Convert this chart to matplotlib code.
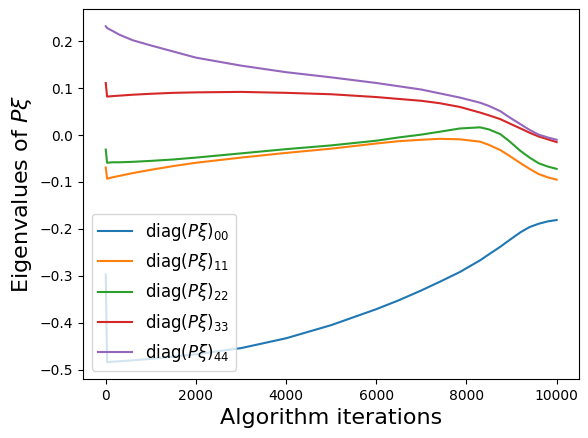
import matplotlib.pyplot as plt
import numpy as np

iters = [0, 30, 150, 300, 600, 1000, 1500, 2000, 3000, 4000, 5000, 6000, 6500,
         7000, 7400, 7850, 8300, 8500, 8750, 8950, 9200, 9400, 9600, 9800, 10000]

eig_00 = [-0.297, -0.484, -0.483, -0.482, -0.480, -0.477, -0.472, -0.467, -0.454,
          -0.433, -0.405, -0.371, -0.352, -0.331, -0.313, -0.292, -0.267, -0.254,
          -0.238, -0.224, -0.207, -0.196, -0.189, -0.184, -0.181]
eig_11 = [-0.069, -0.093, -0.090, -0.087, -0.081, -0.074, -0.066, -0.059, -0.048,
          -0.038, -0.029, -0.018, -0.013, -0.010, -0.008, -0.009, -0.014, -0.021,
          -0.032, -0.044, -0.060, -0.072, -0.083, -0.090, -0.095]
eig_22 = [-0.031, -0.059, -0.058, -0.058, -0.057, -0.055, -0.052, -0.048, -0.039,
          -0.030, -0.022, -0.012, -0.005, 0.001, 0.007, 0.014, 0.0165, 0.012,
          0.002, -0.013, -0.034, -0.048, -0.060, -0.067, -0.072]
eig_33 = [0.111, 0.082, 0.083, 0.084, 0.086, 0.088, 0.090, 0.091, 0.092, 0.090,
          0.087, 0.081, 0.077, 0.073, 0.068, 0.060, 0.048, 0.042, 0.034, 0.025,
          0.014, 0.005, -0.003, -0.009, -0.015]
eig_44 = [0.232, 0.228, 0.222, 0.214, 0.202, 0.191, 0.178, 0.165, 0.148, 0.134,
          0.123, 0.111, 0.104, 0.097, 0.089, 0.080, 0.069, 0.062, 0.051, 0.038,
          0.023, 0.011, 0.001, -0.005, -0.010]

series = [eig_00, eig_11, eig_22, eig_33, eig_44]
labels = ['00', '11', '22', '33', '44']

fig = plt.figure(figsize=(5.88, 4.38), dpi=100)
ax = fig.add_axes([83.2 / 588, 59 / 438, 496 / 588, 369.6 / 438])

for vals, lab in zip(series, labels):
    ax.plot(iters, vals, label=r'diag$(P\xi)_{%s}$' % lab)

ax.set_xlabel('Algorithm iterations', fontsize=16)
ax.set_ylabel(r'Eigenvalues of $P\xi$', fontsize=16)
ax.legend(loc='lower left', fontsize=12)

fig.savefig('out.png', dpi=100)
